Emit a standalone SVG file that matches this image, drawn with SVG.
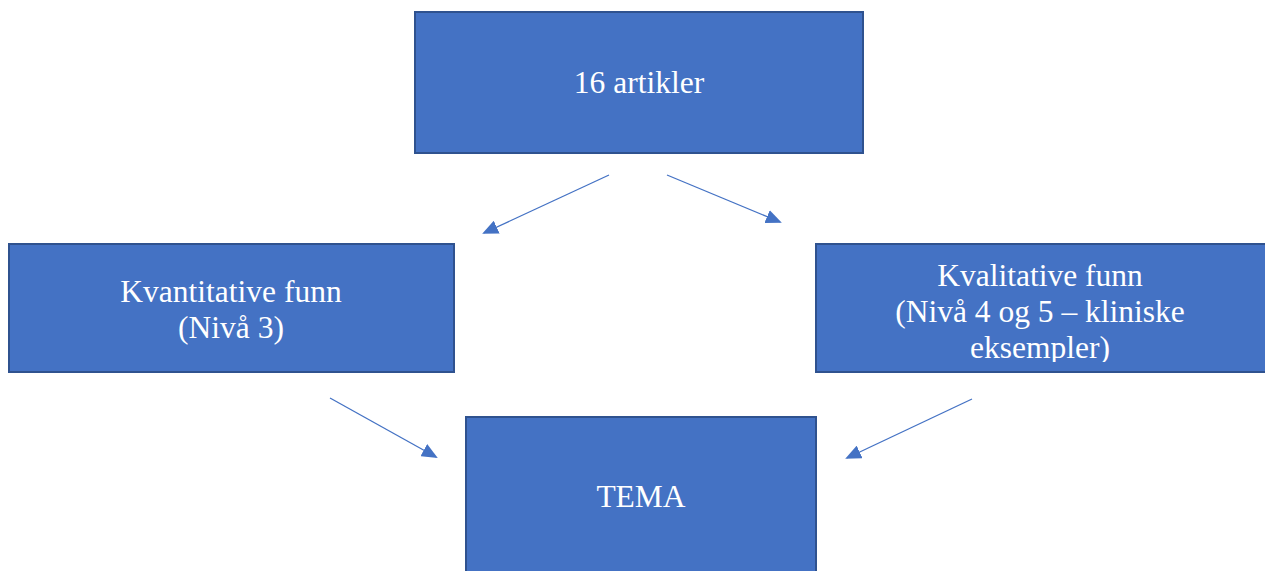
<svg xmlns="http://www.w3.org/2000/svg" width="1265" height="571" viewBox="0 0 1265 571">
<style>
.box{fill:#4472c4;stroke:#2f528f;stroke-width:2}
.t{font-family:"Liberation Serif","DejaVu Serif",serif;font-size:31.5px;fill:#ffffff;text-anchor:middle}
.c{stroke:#4472c4;stroke-width:1.3;fill:none;marker-end:url(#ah)}
</style>
<defs>
<marker id="ah" markerWidth="16" markerHeight="14" refX="14" refY="7" orient="auto" markerUnits="userSpaceOnUse">
<path d="M0,0 L16,7 L0,14 Z" fill="#4472c4"/>
</marker>
<clipPath id="clipR"><rect x="816" y="244" width="450" height="118"/></clipPath>
</defs>
<rect width="1265" height="571" fill="#ffffff"/>
<g id="connectors">
<line class="c" x1="609" y1="175" x2="484" y2="233"/>
<line class="c" x1="667" y1="175" x2="780" y2="222"/>
<line class="c" x1="330" y1="398" x2="436" y2="457"/>
<line class="c" x1="972" y1="399" x2="847" y2="458"/>
</g>
<g id="n-artikler">
<rect class="box" x="415" y="12" width="448" height="141"/>
<text class="t" x="639" y="93">16 artikler</text>
</g>
<g id="n-kvantitative">
<rect class="box" x="9" y="244" width="445" height="128"/>
<text class="t" x="231" y="302">Kvantitative funn</text>
<text class="t" x="231" y="338">(Nivå 3)</text>
</g>
<g id="n-kvalitative">
<rect class="box" x="816" y="244" width="452" height="128"/>
<g clip-path="url(#clipR)">
<text class="t" x="1040" y="286">Kvalitative funn</text>
<text class="t" x="1040" y="322">(Nivå 4 og 5 – kliniske</text>
<text class="t" x="1040" y="358">eksempler)</text>
</g>
</g>
<g id="n-tema">
<rect class="box" x="466" y="417" width="350" height="170"/>
<text class="t" x="641" y="507">TEMA</text>
</g>
</svg>
